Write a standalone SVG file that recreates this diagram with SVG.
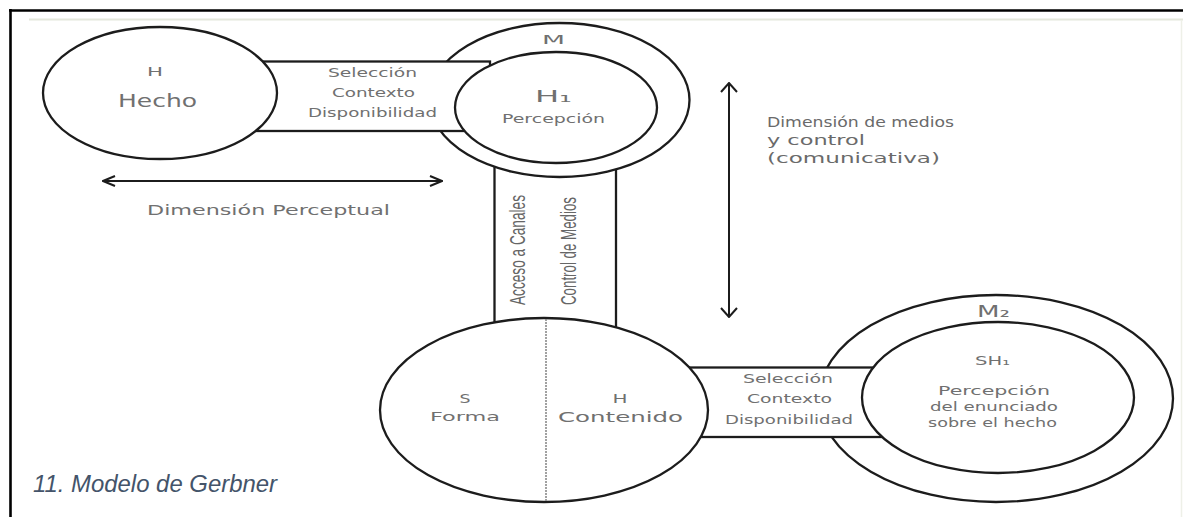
<svg xmlns="http://www.w3.org/2000/svg" width="1183" height="517" viewBox="0 0 1183 517">
<style>
.shape{fill:#fff;stroke:#1c1c1c;stroke-width:2.3}
.lbl{font-family:"DejaVu Sans",sans-serif;fill:#707070;text-anchor:middle}
.lblL{font-family:"DejaVu Sans",sans-serif;fill:#6a6a6a}
.vlbl{font-family:"Liberation Sans",Arial,sans-serif;fill:#666;text-anchor:middle;font-size:13.6px}
.conn{stroke:#1c1c1c;stroke-width:2;fill:none}
</style>
<defs>
<marker id="headH" viewBox="0 0 14 12" refX="13" refY="6" markerWidth="14" markerHeight="12" markerUnits="userSpaceOnUse" orient="auto-start-reverse">
<path d="M1,1 L13,6 L1,11" fill="none" stroke="#1c1c1c" stroke-width="2"/>
</marker>
<marker id="headV" viewBox="0 0 11 18" refX="10" refY="9" markerWidth="11" markerHeight="18" markerUnits="userSpaceOnUse" orient="auto-start-reverse">
<path d="M1,1 L10,9 L1,17" fill="none" stroke="#1c1c1c" stroke-width="2"/>
</marker>
</defs>
<rect x="0" y="0" width="1183" height="517" fill="#fff"/>
<g id="frame">
<line x1="29" y1="19.5" x2="1183" y2="19.5" stroke="#e4e7dc" stroke-width="2"/>
<line x1="1181.5" y1="20" x2="1181.5" y2="517" stroke="#eef0e8" stroke-width="1.5"/>
<line x1="9" y1="10.5" x2="1183" y2="10.5" stroke="#000" stroke-width="2.6"/>
<line x1="10.5" y1="9" x2="10.5" y2="517" stroke="#000" stroke-width="2.6"/>
</g>
<g id="band-canal">
<rect class="shape" x="494.5" y="150" width="121.5" height="190"/>
<text class="vlbl" transform="translate(525,250) scale(1.6,1) rotate(-90)" textLength="110" lengthAdjust="spacingAndGlyphs">Acceso a Canales</text>
<text class="vlbl" transform="translate(576,251) scale(1.6,1) rotate(-90)" textLength="108" lengthAdjust="spacingAndGlyphs">Control de Medios</text>
</g>
<g id="node-M">
<ellipse class="shape" cx="559.5" cy="100" rx="130" ry="77"/>
<text class="lbl" x="553.5" y="44" font-size="12.5" textLength="23" lengthAdjust="spacingAndGlyphs">M</text>
</g>
<g id="band-top">
<rect class="shape" x="250" y="61.5" width="240" height="69.5"/>
<text class="lbl" x="372.5" y="77" font-size="12.5" textLength="89" lengthAdjust="spacingAndGlyphs">Selección</text>
<text class="lbl" x="373.5" y="97" font-size="12.5" textLength="83" lengthAdjust="spacingAndGlyphs">Contexto</text>
<text class="lbl" x="372.5" y="117" font-size="12.5" textLength="129" lengthAdjust="spacingAndGlyphs">Disponibilidad</text>
</g>
<g id="node-H1">
<ellipse class="shape" cx="556" cy="107.5" rx="101" ry="55.5"/>
<text class="lbl" x="553.5" y="102" font-size="16" textLength="37" lengthAdjust="spacingAndGlyphs">H₁</text>
<text class="lbl" x="553.5" y="123" font-size="11.5" textLength="103" lengthAdjust="spacingAndGlyphs">Percepción</text>
</g>
<g id="node-H">
<ellipse class="shape" cx="160" cy="93" rx="117" ry="66"/>
<text class="lbl" x="155" y="76" font-size="13" textLength="16" lengthAdjust="spacingAndGlyphs">H</text>
<text class="lbl" x="157.5" y="107" font-size="17" textLength="79" lengthAdjust="spacingAndGlyphs">Hecho</text>
</g>
<g id="node-M2">
<ellipse class="shape" cx="996" cy="398.5" rx="177" ry="103.5"/>
<text class="lbl" x="993.5" y="317" font-size="15" textLength="33" lengthAdjust="spacingAndGlyphs">M₂</text>
</g>
<g id="band-bottom">
<rect class="shape" x="680" y="367.5" width="210" height="69.5"/>
<text class="lbl" x="788" y="383" font-size="12.5" textLength="90" lengthAdjust="spacingAndGlyphs">Selección</text>
<text class="lbl" x="789.5" y="403" font-size="12.5" textLength="85" lengthAdjust="spacingAndGlyphs">Contexto</text>
<text class="lbl" x="789" y="424" font-size="12.5" textLength="128" lengthAdjust="spacingAndGlyphs">Disponibilidad</text>
</g>
<g id="node-SH1">
<ellipse class="shape" cx="998" cy="397.5" rx="136" ry="75.5"/>
<text class="lbl" x="992.5" y="365" font-size="12.5" textLength="35" lengthAdjust="spacingAndGlyphs">SH₁</text>
<text class="lbl" x="994" y="395" font-size="13" textLength="112" lengthAdjust="spacingAndGlyphs">Percepción</text>
<text class="lbl" x="994" y="411" font-size="13" textLength="128" lengthAdjust="spacingAndGlyphs">del enunciado</text>
<text class="lbl" x="992.5" y="427" font-size="13" textLength="129" lengthAdjust="spacingAndGlyphs">sobre el hecho</text>
</g>
<g id="node-S-H">
<ellipse class="shape" cx="544" cy="410" rx="164" ry="92"/>
<line x1="546" y1="319" x2="546" y2="501" stroke="#8a8a8a" stroke-width="1.6" stroke-dasharray="2 1"/>
<text class="lbl" x="465" y="403" font-size="13" textLength="11" lengthAdjust="spacingAndGlyphs">S</text>
<text class="lbl" x="465" y="421" font-size="13" textLength="70" lengthAdjust="spacingAndGlyphs">Forma</text>
<text class="lbl" x="620" y="403" font-size="13" textLength="15" lengthAdjust="spacingAndGlyphs">H</text>
<text class="lbl" x="620.5" y="422" font-size="14" textLength="125" lengthAdjust="spacingAndGlyphs">Contenido</text>
</g>
<g id="connectors">
<line class="conn" x1="103" y1="181" x2="442" y2="181" marker-start="url(#headH)" marker-end="url(#headH)"/>
<line class="conn" x1="729" y1="83" x2="729" y2="317" marker-start="url(#headV)" marker-end="url(#headV)"/>
</g>
<g id="labels">
<text class="lbl" x="268.5" y="215" font-size="14" textLength="243" lengthAdjust="spacingAndGlyphs">Dimensión Perceptual</text>
<text class="lblL" x="767" y="127" font-size="14" textLength="187" lengthAdjust="spacingAndGlyphs">Dimensión de medios</text>
<text class="lblL" x="767" y="145" font-size="14" textLength="98" lengthAdjust="spacingAndGlyphs">y control</text>
<text class="lblL" x="767" y="163" font-size="14" textLength="173" lengthAdjust="spacingAndGlyphs">(comunicativa)</text>
</g>
<text id="caption" x="33" y="492" font-family="'Liberation Sans',Arial,sans-serif" font-style="italic" font-size="24" fill="#44546A" textLength="244" lengthAdjust="spacingAndGlyphs">11. Modelo de Gerbner</text>
</svg>
